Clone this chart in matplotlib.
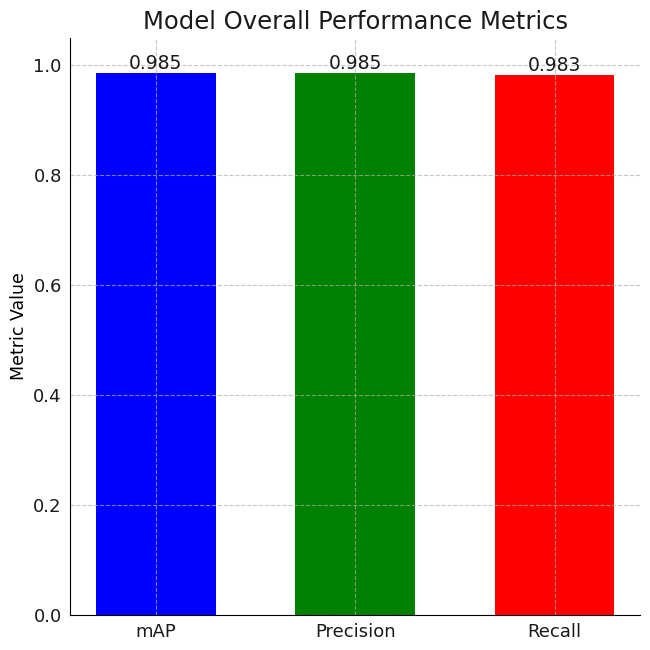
import numpy as np
import matplotlib.pyplot as plt

metrics = ['mAP', 'Precision', 'Recall']
values = [0.985, 0.985, 0.983]
colors = ['blue', 'green', 'red']

plt.rcParams['text.color'] = '#1a1a1a'
plt.rcParams['xtick.color'] = '#1a1a1a'
plt.rcParams['ytick.color'] = '#1a1a1a'

fig, ax = plt.subplots(figsize=(6.5, 6.5), dpi=100)
bars = ax.bar(metrics, values, color=colors, width=0.6)
ax.set_ylim(0, 1.05)
ax.set_title('Model Overall Performance Metrics', fontsize=17.5)
ax.set_ylabel('Metric Value', fontsize=12.5)
ax.tick_params(labelsize=13, length=0, pad=6)
ax.grid(True, linestyle='--', alpha=0.7)
ax.spines['top'].set_visible(False)
ax.spines['right'].set_visible(False)

for bar, v in zip(bars, values):
    ax.text(bar.get_x() + bar.get_width() / 2, v, f'{v:.3f}',
            ha='center', va='bottom', fontsize=13.5)

fig.subplots_adjust(left=0.108, right=0.985, top=0.942, bottom=0.054)
plt.savefig('out.png')
